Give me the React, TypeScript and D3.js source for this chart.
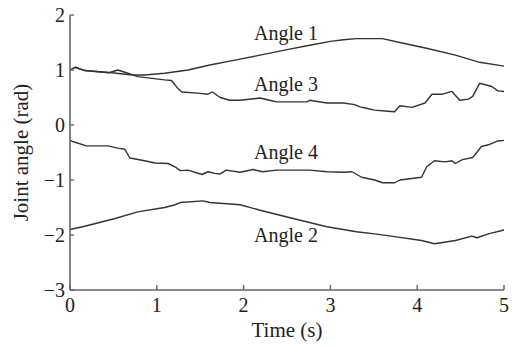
import React from "react";
import * as d3 from "d3";

const angle1T = [0, 0.06, 0.17, 0.48, 0.72, 0.86, 1.09, 1.36, 1.61, 1.9, 2.19, 2.5, 2.76, 3.0, 3.15, 3.3, 3.6, 3.8, 4.12, 4.44, 4.72, 5.0];
const angle1V = [1.0, 1.05, 0.99, 0.95, 0.91, 0.91, 0.94, 1.0, 1.09, 1.18, 1.27, 1.37, 1.45, 1.52, 1.55, 1.57, 1.57, 1.5, 1.39, 1.27, 1.14, 1.07];

const angle3T = [0, 0.06, 0.17, 0.45, 0.55, 0.65, 0.78, 1.09, 1.17, 1.24, 1.29, 1.47, 1.59, 1.64, 1.73, 1.84, 1.96, 2.19, 2.3, 2.38, 2.73, 2.76, 2.96, 3.15, 3.28, 3.34, 3.4, 3.51, 3.66, 3.74, 3.8, 3.94, 4.09, 4.17, 4.29, 4.4, 4.49, 4.59, 4.64, 4.72, 4.86, 4.93, 5.0];
const angle3V = [1.0, 1.05, 0.99, 0.95, 1.0, 0.95, 0.88, 0.82, 0.81, 0.67, 0.6, 0.58, 0.56, 0.6, 0.5, 0.45, 0.45, 0.49, 0.45, 0.42, 0.42, 0.45, 0.4, 0.4, 0.37, 0.33, 0.31, 0.27, 0.25, 0.24, 0.35, 0.32, 0.4, 0.56, 0.56, 0.61, 0.45, 0.47, 0.52, 0.76, 0.7, 0.62, 0.61];

const angle4T = [0, 0.03, 0.19, 0.44, 0.55, 0.63, 0.69, 0.86, 0.98, 1.13, 1.21, 1.27, 1.36, 1.52, 1.59, 1.67, 1.73, 1.8, 1.96, 2.11, 2.22, 2.38, 2.76, 2.96, 3.15, 3.25, 3.36, 3.51, 3.6, 3.74, 3.8, 4.05, 4.11, 4.2, 4.32, 4.4, 4.44, 4.52, 4.64, 4.74, 4.82, 4.93, 5.0];
const angle4V = [-0.28, -0.3, -0.38, -0.38, -0.42, -0.44, -0.6, -0.65, -0.69, -0.7, -0.76, -0.83, -0.82, -0.9, -0.85, -0.88, -0.89, -0.82, -0.86, -0.81, -0.85, -0.82, -0.82, -0.85, -0.86, -0.85, -0.95, -1.0, -1.05, -1.05, -1.0, -0.95, -0.76, -0.65, -0.67, -0.65, -0.7, -0.63, -0.59, -0.39, -0.36, -0.29, -0.28];

const angle2T = [0, 0.17, 0.52, 0.78, 1.09, 1.21, 1.27, 1.53, 1.61, 1.96, 2.19, 2.57, 2.96, 3.3, 3.51, 3.74, 4.05, 4.2, 4.44, 4.63, 4.69, 4.82, 5.0];
const angle2V = [-1.9, -1.84, -1.7, -1.58, -1.5, -1.45, -1.41, -1.38, -1.41, -1.45, -1.55, -1.7, -1.85, -1.94, -1.98, -2.03, -2.1, -2.16, -2.1, -2.02, -2.05, -1.98, -1.91];

const seriesNames = ["Angle 1", "Angle 3", "Angle 4", "Angle 2"];
const labelTime = [2.12, 2.12, 2.12, 2.12];
const labelValue = [1.55, 0.62, -0.62, -2.13];

const xTicks = [0, 1, 2, 3, 4, 5];
const yTicks = [2, 1, 0, -1, -2, -3];

const W = 512;
const H = 347;
const x = d3.scaleLinear().domain([0, 5]).range([70, 504]);
const y = d3.scaleLinear().domain([-3, 2]).range([290, 15]);

const line = d3
  .line<[number, number]>()
  .x((d) => x(d[0]))
  .y((d) => y(d[1]));

const zip = (t: number[], v: number[]): [number, number][] => t.map((tt, i) => [tt, v[i]]);

const series = [
  zip(angle1T, angle1V),
  zip(angle3T, angle3V),
  zip(angle4T, angle4V),
  zip(angle2T, angle2V),
];

const font = "'Liberation Serif', 'Times New Roman', serif";
const fmt = (v: number) => (v < 0 ? "\u2212" + Math.abs(v) : String(v));

export default function App() {
  const [x0, x1] = x.range();
  const [y0, y1] = y.range();
  return (
    <svg
      width={W}
      height={H}
      style={{ position: "absolute", left: 0, top: 0, background: "#fff" }}
      fontFamily={font}
    >
      {series.map((s, i) => (
        <path key={i} d={line(s) ?? ""} fill="none" stroke="#333" strokeWidth={1.4} strokeLinejoin="round" />
      ))}
      {/* axes */}
      <line x1={x0} x2={x0} y1={y1} y2={y0} stroke="#666" strokeWidth={1.6} />
      <line x1={x0} x2={x1} y1={y0} y2={y0} stroke="#666" strokeWidth={1.6} />
      {yTicks.map((t) => (
        <g key={"y" + t}>
          <line x1={x0} x2={x0 + 4} y1={y(t)} y2={y(t)} stroke="#666" strokeWidth={1.4} />
          <text x={x0 - 5} y={y(t)} dy="0.35em" textAnchor="end" fontSize={20} fill="#222">
            {fmt(t)}
          </text>
        </g>
      ))}
      {xTicks.map((t) => (
        <g key={"x" + t}>
          <line x1={x(t)} x2={x(t)} y1={y0} y2={y0 - 5} stroke="#666" strokeWidth={1.4} />
          <text x={x(t)} y={y0 + 22} textAnchor="middle" fontSize={20} fill="#222">
            {fmt(t)}
          </text>
        </g>
      ))}
      <text x={(x0 + x1) / 2} y={337} textAnchor="middle" fontSize={21} fill="#222">
        Time (s)
      </text>
      <text
        transform={`translate(28, ${(y0 + y1) / 2}) rotate(-90)`}
        textAnchor="middle"
        fontSize={21}
        fill="#222"
      >
        Joint angle (rad)
      </text>
      {seriesNames.map((n, i) => (
        <text key={n} x={x(labelTime[i])} y={y(labelValue[i])} fontSize={20} fill="#222">
          {n}
        </text>
      ))}
    </svg>
  );
}
